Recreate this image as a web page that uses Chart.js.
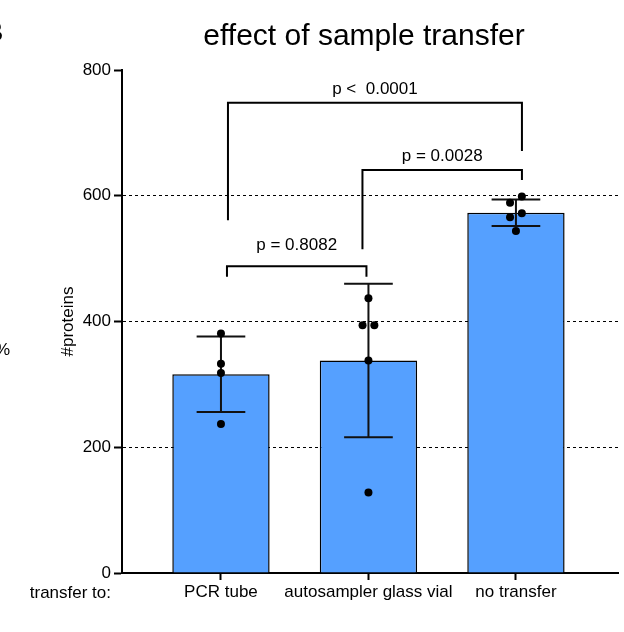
<!DOCTYPE html>
<html>
<head>
<meta charset="utf-8">
<script src="https://cdn.jsdelivr.net/npm/chart.js@4"></script>
<style>
  body { margin: 0; background: #fff; }
  canvas { display: block; }
</style>
</head>
<body>
<canvas id="bar-chart" width="624" height="632"></canvas>
<script>
var categories = ["PCR tube", "autosampler glass vial", "no transfer"];
var barMeans = [316, 338, 573];
var barSD = [60, 122, 21];
var replicates = [
    [381, 333, 318, 237],
    [437, 394, 394, 338, 128],
    [599, 589, 572, 566, 544]
];
// small horizontal spread of the dots, in category units
var jitter = [
    [0, 0, 0, 0],
    [0, -0.04, 0.04, 0, 0],
    [0.04, -0.04, 0.04, -0.04, 0]
];
var yTicks = [0, 200, 400, 600, 800];
var comparisons = [[0, 1], [1, 2], [0, 2]];
var pLabels = ["p = 0.8082", "p = 0.0028", "p <  0.0001"];

var FONT = "'Liberation Sans', Arial, sans-serif";

// bracket drawing: heights in y units, end offsets in px
var bracketStyle = [
    { top: 488, legA: 471, legB: 471, text: 521, offA: 6, offB: -2 },
    { top: 641, legA: 515, legB: 625, text: 663, offA: -6, offB: 6 },
    { top: 748, legA: 561, legB: 671, text: 769, offA: 7, offB: 6 }
];

var barData = barMeans.map(function (v, i) { return { x: i, y: v }; });
var dotData = [];
replicates.forEach(function (vals, i) {
    vals.forEach(function (v, j) {
        dotData.push({ x: i + jitter[i][j], y: v });
    });
});

//error bars right after the bars, so dots sit on top
const errorBars = {
    id: 'errorBars',
    afterDatasetDraw: (chart, args) => {
        if (args.index !== 0) return;
        const ctx = chart.ctx;
        const y = chart.scales.y;
        ctx.save();
        ctx.strokeStyle = '#111';
        ctx.lineWidth = 2;
        args.meta.data.forEach((bar, i) => {
            const cx = bar.x;
            const half = bar.width * 0.25;
            const yTop = y.getPixelForValue(barMeans[i] + barSD[i]);
            const yBot = y.getPixelForValue(barMeans[i] - barSD[i]);
            ctx.beginPath();
            ctx.moveTo(cx, yTop); ctx.lineTo(cx, yBot);
            ctx.moveTo(cx - half, yTop); ctx.lineTo(cx + half, yTop);
            ctx.moveTo(cx - half, yBot); ctx.lineTo(cx + half, yBot);
            ctx.stroke();
        });
        ctx.restore();
    }
};

const annotations = {
    id: 'annotations',
    afterDraw: (chart) => {
        const ctx = chart.ctx;
        const x = chart.scales.x, y = chart.scales.y;
        ctx.save();
        ctx.strokeStyle = '#000';
        ctx.fillStyle = '#000';
        ctx.lineWidth = 2;
        ctx.font = '17px ' + FONT;
        ctx.textAlign = 'center';
        ctx.textBaseline = 'middle';
        comparisons.forEach((c, k) => {
            const s = bracketStyle[k];
            const xa = x.getPixelForValue(c[0]) + s.offA;
            const xb = x.getPixelForValue(c[1]) + s.offB;
            const yt = y.getPixelForValue(s.top);
            ctx.beginPath();
            ctx.moveTo(xa, y.getPixelForValue(s.legA));
            ctx.lineTo(xa, yt);
            ctx.lineTo(xb, yt);
            ctx.lineTo(xb, y.getPixelForValue(s.legB));
            ctx.stroke();
            ctx.fillText(pLabels[k], (xa + xb) / 2, y.getPixelForValue(s.text));
        });

        // title
        ctx.textBaseline = 'alphabetic';
        ctx.font = '30px ' + FONT;
        ctx.fillText('effect of sample transfer', 364, 45);

        // row label under the x axis
        ctx.font = '17px ' + FONT;
        ctx.textAlign = 'right';
        ctx.fillText('transfer to:', 111, 598);

        // pieces of the neighbouring panel
        ctx.textAlign = 'left';
        ctx.fillText('%', -5, 355);
        ctx.font = 'bold 28px ' + FONT;
        ctx.fillText('B', -17, 41);
        ctx.restore();
    }
};

var ctx = document.getElementById("bar-chart").getContext('2d');
var myChart = new Chart(ctx, {
    type: 'bar',
    data: {
        datasets: [{
            type: 'bar',
            data: barData,
            backgroundColor: '#55A0FF',
            borderColor: '#000',
            borderWidth: 1.5,
            categoryPercentage: 1,
            barPercentage: 0.66,
            order: 1
        }, {
            type: 'scatter',
            data: dotData,
            backgroundColor: '#000',
            borderWidth: 0,
            pointRadius: 4,
            order: 0
        }]
    },
    options: {
        responsive: false,
        animation: false,
        layout: { padding: { top: 70, right: 6, left: 0, bottom: 0 } },
        plugins: {
            legend: { display: false },
            tooltip: { enabled: false },
            title: { display: false }
        },
        scales: {
            x: {
                type: 'linear',
                position: 'bottom',
                min: -0.671,
                max: 2.692,
                offset: false,
                afterBuildTicks: (scale) => {
                    scale.ticks = categories.map((c, i) => ({ value: i }));
                },
                afterFit: (scale) => { scale.height = 59; },
                ticks: {
                    color: '#000',
                    font: { family: FONT, size: 17 },
                    padding: 2,
                    maxRotation: 0,
                    autoSkip: false,
                    callback: (v) => categories[v]
                },
                grid: {
                    offset: false,
                    drawOnChartArea: false,
                    drawTicks: true,
                    tickLength: 7,
                    tickWidth: 2,
                    tickColor: '#000'
                },
                border: { color: '#000', width: 2 }
            },
            y: {
                min: 0,
                max: 800,
                afterBuildTicks: (scale) => {
                    scale.ticks = yTicks.map((v) => ({ value: v }));
                },
                afterFit: (scale) => { scale.width = 122; },
                ticks: {
                    color: '#000',
                    font: { family: FONT, size: 17 },
                    padding: 3
                },
                grid: {
                    color: (c) => (c.tick && (c.tick.value === 0 || c.tick.value === 800)) ? 'rgba(0,0,0,0)' : '#000',
                    lineWidth: 1,
                    tickLength: 8,
                    tickWidth: 2,
                    tickColor: '#000'
                },
                border: { color: '#000', width: 2, dash: [3, 3] },
                title: {
                    display: true,
                    text: '#proteins',
                    color: '#000',
                    font: { family: FONT, size: 17 },
                    padding: { top: 58, bottom: 0 }
                }
            }
        }
    },
    plugins: [errorBars, annotations]
});
</script>
</body>
</html>
